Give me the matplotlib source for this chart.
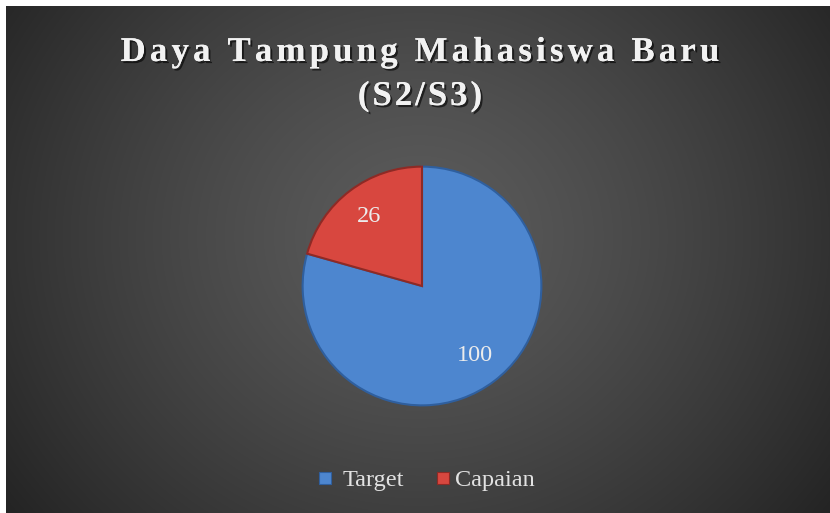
import numpy as np
import matplotlib
matplotlib.use('Agg')
import matplotlib.pyplot as plt
import matplotlib.patheffects as pe
from matplotlib.patches import Rectangle
from matplotlib.font_manager import FontProperties, findfont
from matplotlib.ft2font import FT2Font

labels = ['Target', 'Capaian']
values = [100, 26]
colors = ['#4d86cf', '#d8473f']
edges = ['#2f5f9e', '#8e2a25']
title_lines = ['Daya Tampung Mahasiswa Baru', '(S2/S3)']

W, H = 830, 513
fig = plt.figure(figsize=(W / 100, H / 100), dpi=100)
fig.patch.set_facecolor('white')

# dark radial gradient background
bg = fig.add_axes([6 / W, 0, 1 - 6 / W, 1 - 6 / H])
yy, xx = np.mgrid[0:507, 0:824]
cx, cy = 412, 230
r = np.sqrt(((xx - cx) / 1.0) ** 2 + ((yy - cy) / 0.9) ** 2)
r = r / r.max()
g = 0.36 - 0.22 * r ** 1.3
bg.imshow(np.dstack([g, g, g]), aspect='auto', extent=[0, 1, 0, 1])
bg.set_axis_off()

# pie
pax = fig.add_axes([(422 - 125) / W, 1 - (286 + 125) / H, 250 / W, 250 / H])
wedges, texts = pax.pie(values, colors=colors, startangle=90, counterclock=False,
                        radius=0.955, labels=[str(v) for v in values],
                        labeldistance=0.73,
                        wedgeprops=dict(linewidth=1.5))
for w, ec in zip(wedges, edges):
    w.set_edgecolor(ec)
for t in texts:
    t.set_color('#ececec')
    t.set_fontsize(17.5)
    t.set_family('Liberation Serif')
    t.set_ha('center')
    t.set_va('center')
pax.set_xlim(-1, 1)
pax.set_ylim(-1, 1)
pax.set_aspect('equal')

# title, drawn letter by letter to get the wide tracking
tprop = FontProperties(family='Liberation Serif', weight='bold', size=25)
font = FT2Font(findfont(tprop))
font.set_size(25, 100)
shadow = [pe.withSimplePatchShadow(offset=(1.5, -1.5), shadow_rgbFace='black', alpha=0.6),
          pe.Normal()]
for line, base, track in zip(title_lines, [61, 105], [4.2, 3.0]):
    adv = []
    for ch in line:
        g_ = font.load_char(ord(ch))
        adv.append(g_.linearHoriAdvance / 65536)
    total = sum(adv) + track * (len(line) - 1)
    x = 420 - total / 2
    for ch, a in zip(line, adv):
        if ch != ' ':
            fig.text(x / W, 1 - base / H, ch, ha='left', va='baseline',
                     color='#f2f2f2', fontproperties=tprop, path_effects=shadow)
        x += a + track

# legend
leg_y = 1 - 478 / H
items = [(325, 343), (443, 455)]
for (sx, tx), lab, c, ec in zip(items, labels, colors, edges):
    fig.patches.append(Rectangle((sx / W - 6 / W, leg_y - 6 / H), 12 / W, 12 / H,
                                 transform=fig.transFigure, facecolor=c,
                                 edgecolor=ec, linewidth=0.8))
    fig.text(tx / W, 1 - 486 / H, lab, ha='left', va='baseline', color='#e2e2e2',
             fontsize=17.5, family='Liberation Serif')

fig.savefig('out.png', dpi=100, facecolor=fig.get_facecolor())
